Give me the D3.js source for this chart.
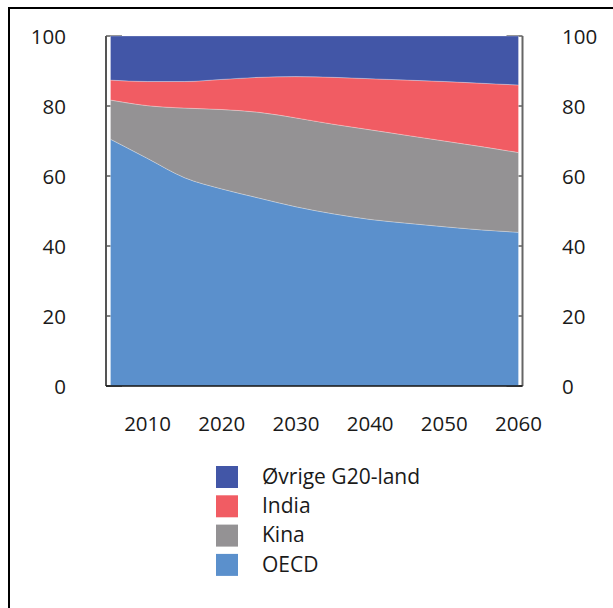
<!DOCTYPE html>
<html><head><meta charset="utf-8">
<script src="https://cdn.jsdelivr.net/npm/d3@7"></script>
<style>body{margin:0;background:#fff}svg{display:block}text{font-family:"Open Sans",sans-serif;fill:#1a1a1a}</style>
</head><body>
<svg id="c" width="613" height="608"></svg>
<script>
const years = [2005, 2010, 2015, 2020, 2025, 2030, 2035, 2040, 2045, 2050, 2055, 2060];
const oecd   = [70.5, 65.0, 59.5, 56.3, 53.7, 51.2, 49.2, 47.6, 46.5, 45.5, 44.6, 43.9];
const kina   = [11.2, 15.1, 19.9, 22.7, 24.5, 25.4, 25.6, 25.6, 25.1, 24.5, 23.8, 22.8];
const india  = [5.7, 6.9, 7.6, 8.6, 10.0, 11.8, 13.4, 14.6, 15.8, 17.0, 18.1, 19.3];
const ovrige = [12.6, 13.0, 13.0, 12.4, 11.8, 11.6, 11.8, 12.2, 12.6, 13.0, 13.5, 14.0];
const seriesNames = ["OECD", "Kina", "India", "Øvrige G20-land"];
const colors = ["#5b90cc", "#949294", "#f15c63", "#4256a7"];
const xTicks = [2010, 2020, 2030, 2040, 2050, 2060];
const yTicks = [0, 20, 40, 60, 80, 100];

const svg = d3.select("#c");
// frame
svg.append("rect").attr("x", 9).attr("y", 8).attr("width", 800).attr("height", 800)
  .attr("fill", "none").attr("stroke", "#000").attr("stroke-width", 2);

const x = d3.scaleLinear().domain([2005, 2060]).range([110.5, 518.5]);
const y = d3.scaleLinear().domain([0, 100]).range([386, 36]);
const xl = 106, xr = 522.5;
const fs = 20.5;

const rows = years.map((yr, i) => ({year: yr, "OECD": oecd[i], "Kina": kina[i], "India": india[i], "Øvrige G20-land": ovrige[i]}));
const stack = d3.stack().keys(seriesNames)(rows);

// ticks (drawn under the areas)
const g = svg.append("g");
g.selectAll(".tl").data(yTicks).join("line")
  .attr("x1", xl).attr("x2", xl + 16).attr("y1", d => y(d)).attr("y2", d => y(d))
  .attr("stroke", "#444").attr("stroke-width", 1.3);
g.selectAll(".tr").data(yTicks).join("line")
  .attr("x1", xr - 16).attr("x2", xr).attr("y1", d => y(d)).attr("y2", d => y(d))
  .attr("stroke", "#444").attr("stroke-width", 1.3);

const area = d3.area().curve(d3.curveMonotoneX)
  .x(d => x(d.data.year)).y0(d => y(d[0])).y1(d => y(d[1]));
svg.append("g").selectAll("path").data(stack).join("path")
  .attr("d", area).attr("fill", (d, i) => colors[i])
  .attr("stroke", "#ffffff").attr("stroke-opacity", 0.45).attr("stroke-width", 0.6);

// axis lines
svg.append("line").attr("x1", xl).attr("x2", xl).attr("y1", y(100)).attr("y2", y(0)).attr("stroke", "#555").attr("stroke-width", 2);
svg.append("line").attr("x1", xr).attr("x2", xr).attr("y1", y(100)).attr("y2", y(0)).attr("stroke", "#666").attr("stroke-width", 2);
svg.append("line").attr("x1", xl).attr("x2", xr).attr("y1", 386).attr("y2", 386).attr("stroke", "#111").attr("stroke-width", 1.5);

// y labels
svg.append("g").selectAll("text").data(yTicks).join("text")
  .attr("x", 66).attr("y", d => y(d) + 3).attr("text-anchor", "end")
  .attr("dominant-baseline", "middle").attr("font-size", fs).text(d => d);
svg.append("g").selectAll("text").data(yTicks).join("text")
  .attr("x", 562).attr("y", d => y(d) + 3).attr("text-anchor", "start")
  .attr("dominant-baseline", "middle").attr("font-size", fs).text(d => d);
// x labels
svg.append("g").selectAll("text").data(xTicks).join("text")
  .attr("x", d => x(d)).attr("y", 426).attr("text-anchor", "middle")
  .attr("dominant-baseline", "middle").attr("font-size", fs).text(d => d);

// legend
const legendOrder = [3, 2, 1, 0];
const lg = svg.append("g").selectAll("g").data(legendOrder).join("g")
  .attr("transform", (d, i) => `translate(216,${466 + i * 29.3})`);
lg.append("rect").attr("width", 22).attr("height", 22).attr("fill", d => colors[d]);
lg.append("text").attr("x", 46).attr("y", 12).attr("dominant-baseline", "middle")
  .attr("font-size", 21).text(d => seriesNames[d]);
</script>
</body></html>
